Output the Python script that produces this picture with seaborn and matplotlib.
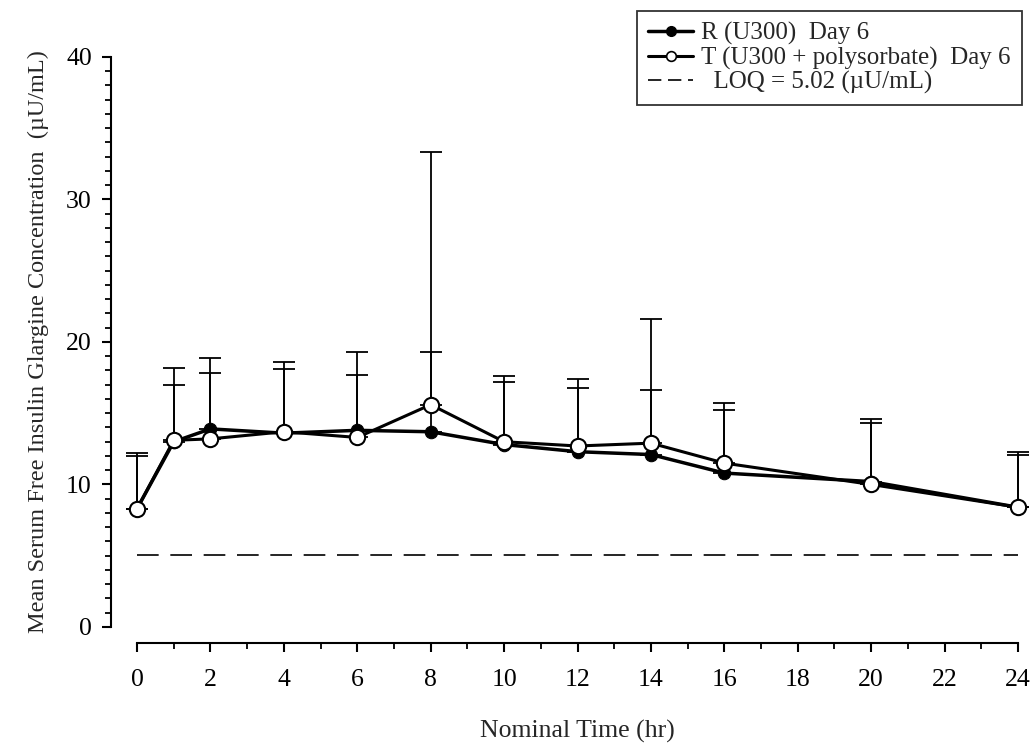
import numpy as np
import pandas as pd
import matplotlib
matplotlib.use("Agg")
import matplotlib.pyplot as plt
from matplotlib.lines import Line2D
from matplotlib.ticker import MultipleLocator
import seaborn as sns

# ---- data ----
time_hr = [0, 1, 2, 4, 6, 8, 10, 12, 14, 16, 20, 24]
r_mean = [8.3, 13.0, 13.9, 13.6, 13.8, 13.7, 12.8, 12.3, 12.1, 10.8, 10.2, 8.4]
t_mean = [8.3, 13.1, 13.2, 13.7, 13.3, 15.6, 13.0, 12.7, 12.9, 11.5, 10.0, 8.4]
r_sd = [3.7, 4.0, 5.0, 4.5, 5.5, 5.6, 4.4, 4.5, 4.5, 4.4, 4.4, 3.7]
t_sd = [3.9, 5.1, 4.6, 4.9, 4.4, 17.7, 4.6, 4.7, 8.7, 4.2, 4.3, 3.9]
loq = 5.02

r_label = "R (U300)  Day 6"
t_label = "T (U300 + polysorbate)  Day 6"
loq_label = "  LOQ = 5.02 (\u00b5U/mL)"

df = pd.DataFrame({
    "time": time_hr * 2,
    "conc": r_mean + t_mean,
    "sd": r_sd + t_sd,
    "treat": ["R"] * len(time_hr) + ["T"] * len(time_hr),
})

sns.set_style("ticks")
plt.rcParams["font.family"] = ["Liberation Serif", "DejaVu Serif"]

fig = plt.figure(figsize=(10.35, 7.44), dpi=100)
ax = fig.add_axes([0.1324, 0.1573, 0.8512, 0.7661])

# ---- error bars (upper SD only) ----
for treat, zorder in [("R", 2), ("T", 3)]:
    sub = df[df["treat"] == treat]
    ax.errorbar(
        sub["time"], sub["conc"],
        yerr=[np.zeros(len(sub)), sub["sd"]],
        fmt="none", ecolor="black", elinewidth=1.3,
        capsize=8, capthick=1.3, zorder=zorder, clip_on=False,
    )

# ---- mean curves ----
sns.lineplot(
    data=df[df["treat"] == "R"], x="time", y="conc",
    color="black", linewidth=2.5, marker="o", markersize=9,
    markerfacecolor="black", markeredgecolor="black",
    ax=ax, zorder=4, clip_on=False, legend=False,
)
sns.lineplot(
    data=df[df["treat"] == "T"], x="time", y="conc",
    color="black", linewidth=2.2, marker="o", markersize=11,
    markerfacecolor="white", markeredgecolor="black", markeredgewidth=1.5,
    ax=ax, zorder=5, clip_on=False, legend=False,
)

ax.axhline(loq, xmin=0, xmax=1, color="black", linewidth=1.2,
           linestyle=(0, (13, 7)), zorder=1)

# ---- axes styling ----
ax.set_xlim(0, 24)
ax.set_ylim(0, 40)
ax.xaxis.set_major_locator(MultipleLocator(2))
ax.xaxis.set_minor_locator(MultipleLocator(1))
ax.yaxis.set_major_locator(MultipleLocator(10))
ax.yaxis.set_minor_locator(MultipleLocator(1))

for side in ["top", "right"]:
    ax.spines[side].set_visible(False)
ax.spines["left"].set_position(("outward", 19))
ax.spines["bottom"].set_position(("outward", 11.5))
for side in ["left", "bottom"]:
    ax.spines[side].set_linewidth(1.5)
    ax.spines[side].set_color("black")

ax.tick_params(axis="both", which="major", direction="out", length=6.5,
               width=1.5, colors="black", labelsize=18.5)
ax.tick_params(axis="both", which="minor", direction="out", length=4,
               width=1.3, colors="black")
ax.tick_params(axis="x", which="major", pad=12)
ax.tick_params(axis="y", which="major", pad=7)

ax.set_xlabel("Nominal Time (hr)", fontsize=18.5, labelpad=21)
ax.set_ylabel("Mean Serum Free Insulin Glargine Concentration  (\u00b5U/mL)",
              fontsize=17.5, labelpad=12)

# ---- legend ----
handles = [
    Line2D([], [], color="black", linewidth=2.5, marker="o", markersize=7,
           markerfacecolor="black"),
    Line2D([], [], color="black", linewidth=2.2, marker="o", markersize=7,
           markerfacecolor="white", markeredgewidth=1.2),
    Line2D([], [], color="black", linewidth=1.2, linestyle=(0, (8, 4))),
]
leg = fig.legend(
    handles, [r_label, t_label, loq_label],
    loc="upper left", bbox_to_anchor=(637 / 1035, 1 - 11 / 744),
    fontsize=18, frameon=True, fancybox=False, handlelength=1.8,
    handletextpad=0.3, labelspacing=0.05, borderpad=0.45, borderaxespad=0,
)
leg.get_frame().set_edgecolor("black")
leg.get_frame().set_linewidth(1.3)

fig.savefig("out.png", dpi=100)
